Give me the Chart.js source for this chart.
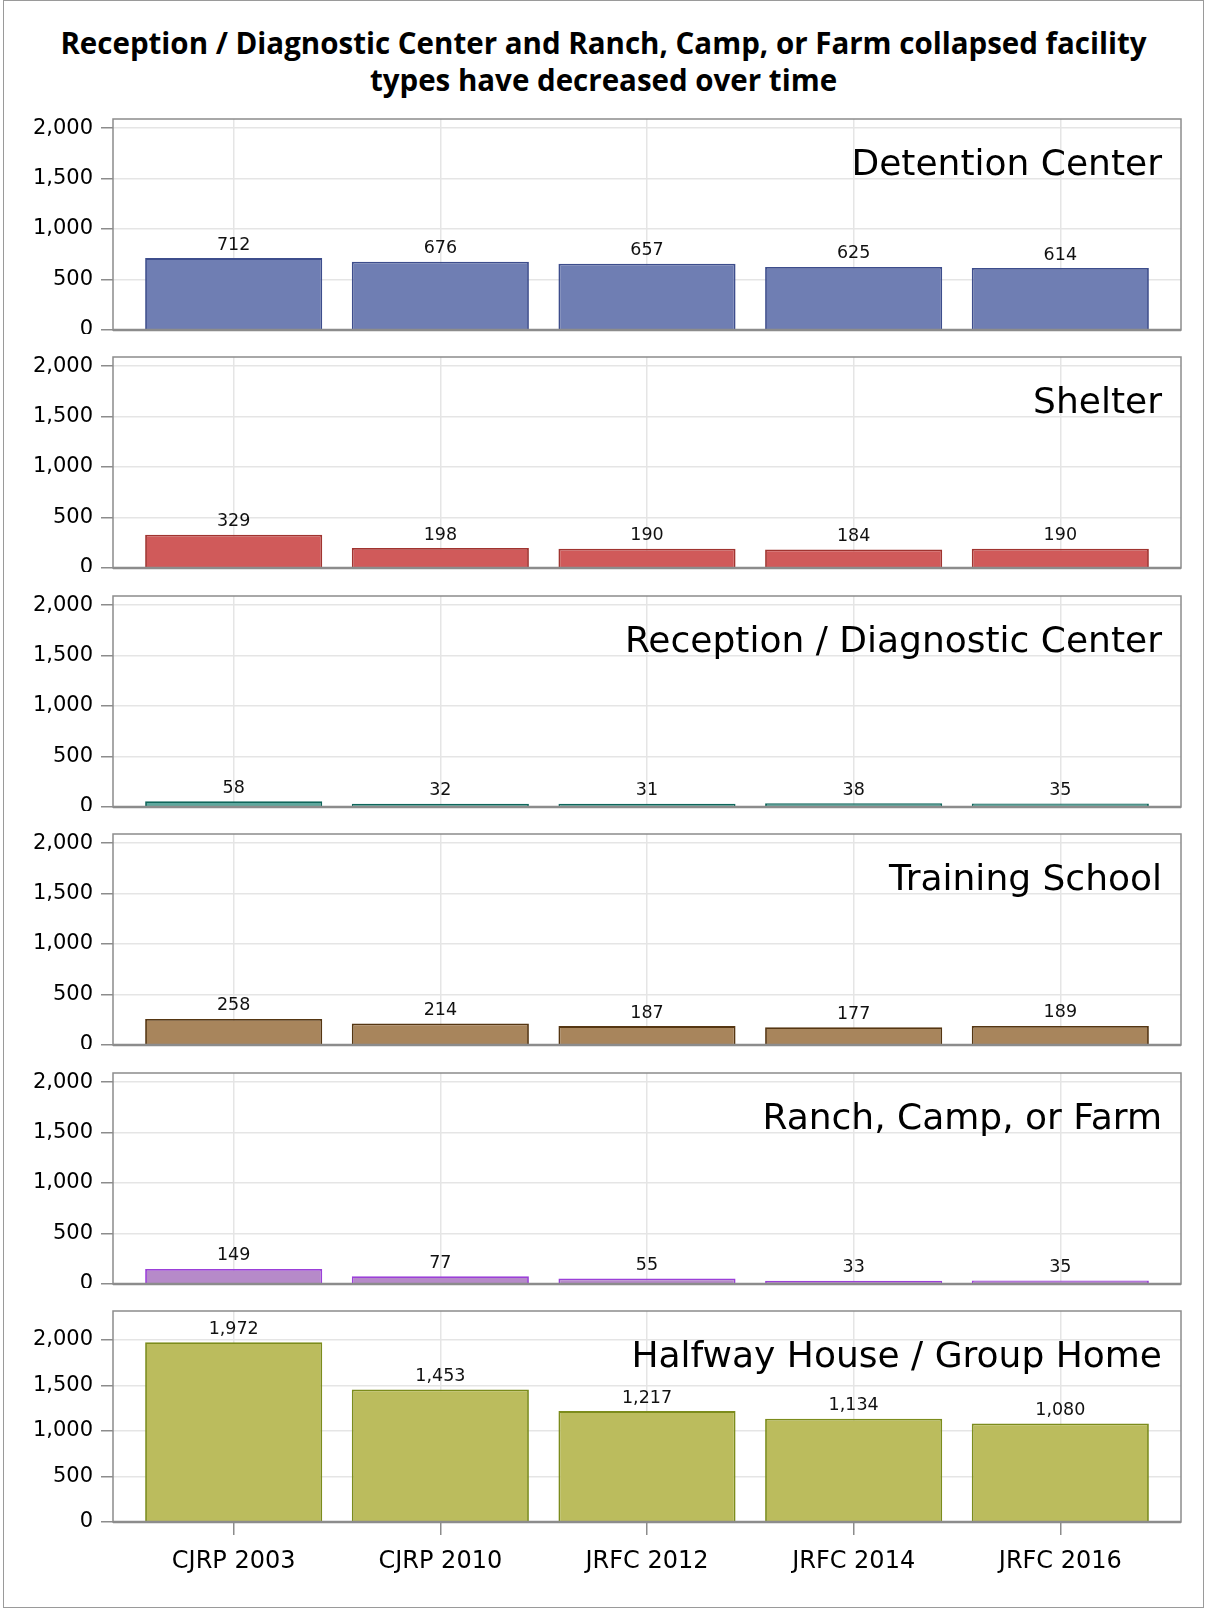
<!DOCTYPE html>
<html lang="en">
<head>
<meta charset="UTF-8">
<title>Facility types over time</title>
<script src="https://cdn.jsdelivr.net/npm/chart.js"></script>
<style>
  body { margin: 0; background: #fff; }
  #page { position: relative; width: 1207px; height: 1608px; overflow: hidden; }
  #border { position: absolute; left: 3px; top: 0; width: 1201px; height: 1608px; box-sizing: border-box; border: 1px solid #9a9a9a; }
  #title { position: absolute; left: 0; top: 24px; width: 1207px; text-align: center;
           font: bold 29.5px "Open Sans", "Liberation Sans", sans-serif; line-height: 37px; color: #000; }
  .panel { position: absolute; left: 0; }
</style>
</head>
<body>
<div id="page">
  <div id="border"></div>
  <div id="title">Reception / Diagnostic Center and Ranch, Camp, or Farm collapsed facility<br>types have decreased over time</div>
</div>
<script>
// data
const surveys = ["CJRP 2003", "CJRP 2010", "JRFC 2012", "JRFC 2014", "JRFC 2016"];
const detentionCenter = [712, 676, 657, 625, 614];
const shelter = [329, 198, 190, 184, 190];
const receptionDiagnostic = [58, 32, 31, 38, 35];
const trainingSchool = [258, 214, 187, 177, 189];
const ranchCampFarm = [149, 77, 55, 33, 35];
const halfwayGroupHome = [1972, 1453, 1217, 1134, 1080];
const yTicks = [0, 500, 1000, 1500, 2000];

const panels = [
  { name: "Detention Center", values: detentionCenter, fill: "#6f7eb3", line: "#3d4d8c", yMax: 2090 },
  { name: "Shelter", values: shelter, fill: "#d05a5a", line: "#a03430", yMax: 2090 },
  { name: "Reception / Diagnostic Center", values: receptionDiagnostic, fill: "#5fa89e", line: "#0f665b", yMax: 2090 },
  { name: "Training School", values: trainingSchool, fill: "#a8855c", line: "#553612", yMax: 2090 },
  { name: "Ranch, Camp, or Farm", values: ranchCampFarm, fill: "#b68ac9", line: "#9b40d8", yMax: 2090 },
  { name: "Halfway House / Group Home", values: halfwayGroupHome, fill: "#bbbc5d", line: "#7c8c1c", yMax: 2315 }
];

const FONT = '"DejaVu Sans", sans-serif';
const GRID = "#e5e5e5";
const AXIS = "#8c8c8c";

// frame round the plot area + value labels + panel name
const panelDecor = {
  id: "panelDecor",
  afterDatasetsDraw(chart, args, opts) {
    const ctx = chart.ctx, a = chart.chartArea;
    ctx.save();
    ctx.strokeStyle = AXIS;
    ctx.lineWidth = 1.5;
    ctx.strokeRect(a.left, a.top, a.right - a.left, a.bottom - a.top);
    ctx.lineWidth = 2.5;
    ctx.beginPath();
    ctx.moveTo(a.left, a.bottom);
    ctx.lineTo(a.right, a.bottom);
    ctx.stroke();

    ctx.fillStyle = "#111";
    ctx.font = "17.5px " + FONT;
    ctx.textAlign = "center";
    ctx.textBaseline = "alphabetic";
    const meta = chart.getDatasetMeta(0);
    meta.data.forEach((bar, i) => {
      const v = chart.data.datasets[0].data[i].y;
      ctx.fillText(v.toLocaleString("en-US"), bar.x, bar.y - 8.5);
    });

    ctx.fillStyle = "#000";
    ctx.font = "36px " + FONT;
    ctx.textAlign = "right";
    ctx.fillText(opts.label, a.right - 19, a.top + 56);
    ctx.restore();
  }
};

const page = document.getElementById("page");

panels.forEach((p, i) => {
  const last = i === panels.length - 1;
  const padTop = 12;
  const frameTop = Math.round(118.5 + 238.5 * i);
  const bottomSpace = last ? 70 : 4;
  const h = padTop + 211 + bottomSpace;

  const canvas = document.createElement("canvas");
  canvas.className = "panel";
  canvas.width = 1207;
  canvas.height = h;
  canvas.style.top = (frameTop - padTop) + "px";
  canvas.style.width = "1207px";
  canvas.style.height = h + "px";
  page.appendChild(canvas);

  new Chart(canvas.getContext("2d"), {
    type: "bar",
    data: {
      datasets: [{
        data: p.values.map((v, k) => ({ x: k, y: v })),
        backgroundColor: p.fill,
        borderColor: p.line,
        borderWidth: 1.8,
        barPercentage: 0.857,
        categoryPercentage: 1
      }]
    },
    options: {
      responsive: false,
      animation: false,
      devicePixelRatio: 1,
      layout: { padding: { top: padTop, right: 26, bottom: last ? 0 : bottomSpace, left: 0 } },
      plugins: {
        legend: { display: false },
        tooltip: { enabled: false },
        panelDecor: { label: p.name }
      },
      scales: {
        x: {
          type: "linear",
          offset: false,
          min: -0.584,
          max: 4.584,
          afterBuildTicks: axis => { axis.ticks = surveys.map((s, k) => ({ value: k })); },
          afterFit: axis => {
            axis.height = last ? 70 : 0;
            axis.paddingLeft = 0; axis.paddingRight = 0;
          },
          grid: { offset: false, color: GRID, lineWidth: 1.5, drawTicks: last, tickLength: 13, tickColor: AXIS, tickWidth: 1.5 },
          border: { display: false },
          ticks: {
            display: last,
            padding: 12,
            color: "#000",
            font: { family: FONT, size: 24 },
            maxRotation: 0,
            autoSkip: false,
            callback: v => surveys[v]
          }
        },
        y: {
          min: 0,
          max: p.yMax,
          afterBuildTicks: axis => { axis.ticks = yTicks.map(v => ({ value: v })); },
          afterFit: axis => {
            axis.width = 113;
            axis.paddingTop = 0; axis.paddingBottom = 0;
          },
          grid: { color: GRID, lineWidth: 1.5, tickLength: 12, tickColor: AXIS, tickWidth: 1.5 },
          border: { display: false },
          ticks: {
            padding: 8,
            color: "#000",
            font: { family: FONT, size: 21 },
            callback: v => v.toLocaleString("en-US")
          }
        }
      }
    },
    plugins: [panelDecor]
  });
});
</script>
</body>
</html>
